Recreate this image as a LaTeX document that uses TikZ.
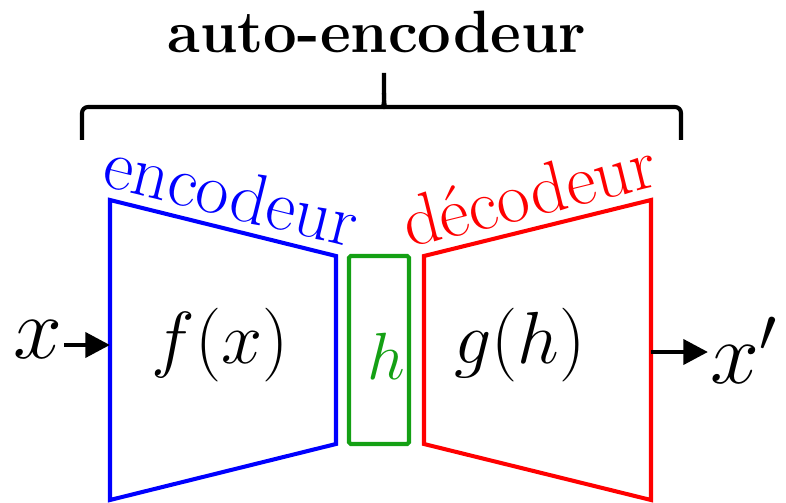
\documentclass[tikz,border=0pt]{standalone}
\usepackage{fix-cm}
\usepackage{amsmath}
\usepackage{xcolor}
\usetikzlibrary{positioning,arrows.meta,calc}

\definecolor{encblue}{RGB}{0,0,255}
\definecolor{decred}{RGB}{255,0,0}
\definecolor{codegreen}{RGB}{20,160,20}

\begin{document}
\begin{tikzpicture}[x=0.2mm, y=-0.2mm,
  encline/.style={draw=encblue, line width=2.3pt, line join=miter},
  decline/.style={draw=decred, line width=2.3pt, line join=miter},
  codebox/.style={draw=codegreen, line width=2.3pt, rounded corners=1pt,
    minimum width=12mm, minimum height=37.6mm, inner sep=0pt},
  flow/.style={line width=2.8pt, -{Triangle[length=14pt,width=14pt]}},
  bigmath/.style={font=\fontsize{42}{46}\selectfont, inner sep=1pt},
  hugemath/.style={font=\fontsize{50}{54}\selectfont, inner sep=1pt},
  slopetext/.style={midway, sloped, above, inner sep=6pt,
    font=\fontsize{41}{44}\selectfont},
  bracket/.style={line width=2.3pt, rounded corners=1.2mm}]
  \useasboundingbox (0,0) rectangle (786,503);

  % Title and brace
  \node[anchor=base, font=\fontsize{34}{38}\selectfont\bfseries] (title) at (377,53) {auto-encodeur};
  \draw[bracket] (82,140) -- (82,107) -- (377,107)
    .. controls (383,107) and (384,103) .. (384,93) -- (384,73);
  \draw[bracket] (384,93) .. controls (384,103) and (385,107) .. (391,107)
    -- (681,107) -- (681,140);

  % Encoder
  \coordinate (enctl) at (110,200);
  \coordinate (enctr) at (336,256);
  \coordinate (encbr) at (336,444);
  \coordinate (encbl) at (110,500);
  \draw[encline] (enctl) -- (enctr) -- (encbr) -- (encbl) -- cycle;
  \path (enctl) -- (enctr) node[slopetext, text=encblue] (enclabel) {encodeur};
  \node[bigmath] (fx) at (220,345) {$f(x)$};

  % Code
  \node[codebox] (code) at (379,350) {};
  \node[bigmath, font=\fontsize{38}{42}\selectfont, text=codegreen] (h) at (386,356) {$h$};

  % Decoder
  \coordinate (dectl) at (424,256);
  \coordinate (dectr) at (651,200);
  \coordinate (decbr) at (651,500);
  \coordinate (decbl) at (424,444);
  \draw[decline] (dectl) -- (dectr) -- (decbr) -- (decbl) -- cycle;
  \path (dectl) -- (dectr) node[slopetext, text=decred] (declabel) {décodeur};
  \node[bigmath] (gh) at (520,345) {$g(h)$};

  % Input and output
  \node[hugemath, anchor=east] (xin) at (64,340) {$x$};
  \coordinate (encin) at (110,345);
  \draw[flow] (xin.east |- encin) -- (encin);
  \coordinate (decout) at (651,352);
  \node[hugemath, anchor=west] (xout) at (708,350) {$x'$};
  \draw[flow] (decout) -- (xout.west |- decout);
\end{tikzpicture}
\end{document}
